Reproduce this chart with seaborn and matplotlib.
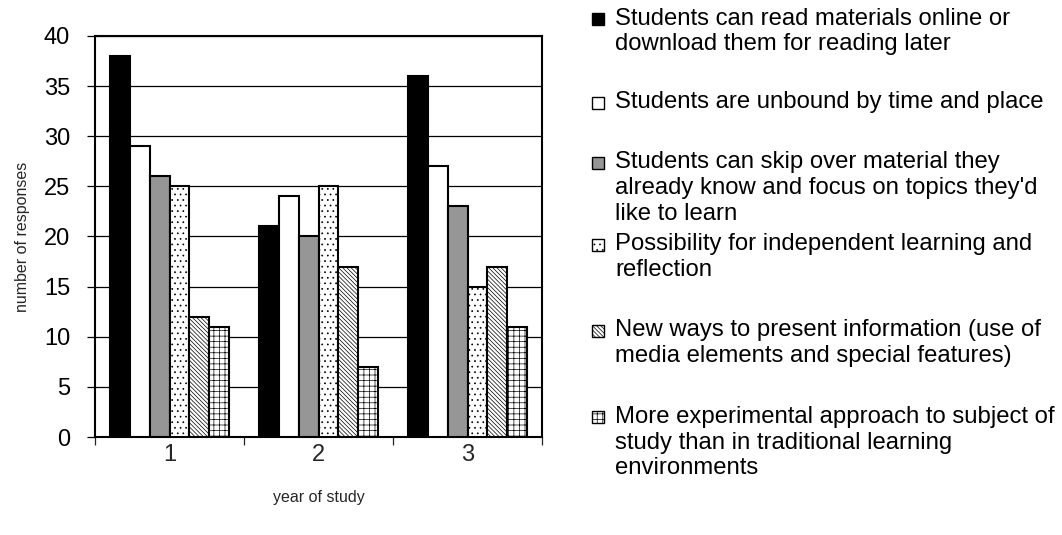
import matplotlib
matplotlib.use("Agg")
import matplotlib.pyplot as plt
from matplotlib.patches import Rectangle
import seaborn as sns
import pandas as pd

# Survey data: advantages of e-learning materials by year of study
years = ["1", "2", "3"]
advantages = [
    "Students can read materials online or\ndownload them for reading later",
    "Students are unbound by time and place",
    "Students can skip over material they\nalready know and focus on topics they'd\nlike to learn",
    "Possibility for independent learning and\nreflection",
    "New ways to present information (use of\nmedia elements and special features)",
    "More experimental approach to subject of\nstudy than in traditional learning\nenvironments",
]
responses_year1 = [38, 29, 26, 25, 12, 11]
responses_year2 = [21, 24, 20, 25, 17, 7]
responses_year3 = [36, 27, 23, 15, 17, 11]
y_ticks = [0, 5, 10, 15, 20, 25, 30, 35, 40]

fills = ["#000000", "#ffffff", "#969696", "#ffffff", "#ffffff", "#ffffff"]
hatches = [None, None, None, "...", "\\\\\\\\\\\\\\\\", "+++"]

rows = []
for year, vals in zip(years, [responses_year1, responses_year2, responses_year3]):
    for adv, v in zip(advantages, vals):
        rows.append({"year": year, "advantage": adv, "responses": v})
df = pd.DataFrame(rows)

sns.set_style("white")
plt.rcParams["font.family"] = ["Liberation Sans", "DejaVu Sans"]
plt.rcParams["hatch.linewidth"] = 0.5
plt.rcParams["hatch.color"] = "#000000"

fig = plt.figure(figsize=(10.62, 5.35), dpi=100)
ax = fig.add_axes([0.0895, 0.183, 0.4209, 0.750])

sns.barplot(data=df, x="year", y="responses", hue="advantage",
            hue_order=advantages, order=years, palette=fills,
            width=0.8, gap=0, edgecolor="black", linewidth=1.5,
            saturation=1, legend=False, ax=ax, zorder=3)

for cont, h in zip(ax.containers, hatches):
    for bar in cont:
        if h:
            bar.set_hatch(h)

ax.set_ylim(0, 40)
ax.set_xlim(-0.5, 2.5)
ax.set_yticks(y_ticks)
ax.yaxis.grid(True, color="black", linewidth=0.9, zorder=0)
ax.set_axisbelow(True)
for s in ax.spines.values():
    s.set_visible(True)
    s.set_color("black")
    s.set_linewidth(1.5)

ax.tick_params(axis="y", which="major", direction="out", length=6, width=0.9,
               pad=12, labelsize=17, left=True, colors="black")
ax.set_xticks([0, 1, 2])
ax.set_xticklabels(years)
ax.set_xticks([-0.5, 0.5, 1.5, 2.5], minor=True)
ax.tick_params(axis="x", which="major", length=0, pad=5, labelsize=17)
ax.tick_params(axis="x", which="minor", direction="out", length=6, width=0.9,
               bottom=True)

ax.set_xlabel("year of study", fontsize=11.5, labelpad=17)
ax.set_ylabel("number of responses", fontsize=11.5, labelpad=10)

# Legend drawn beside the plot, one block per series
W, H = 1062, 535
block_centers = [31.5, 102, 188, 257, 343, 442.5]
first_line = [18, 102, 162, 244, 330, 416]
for label, fill, h, yc, yl in zip(advantages, fills, hatches, block_centers, first_line):
    sq = 12
    fig.patches.append(Rectangle((592 / W, 1 - (yl + sq / 2 + 1) / H), sq / W, sq / H,
                                 transform=fig.transFigure, facecolor=fill,
                                 edgecolor="black", linewidth=1.0,
                                 hatch=h if h else None))
    fig.text(615 / W, 1 - yc / H, label, fontsize=17.2, va="center", ha="left",
             linespacing=1.22, color="black")

fig.savefig("out.png", dpi=100, facecolor="white")
